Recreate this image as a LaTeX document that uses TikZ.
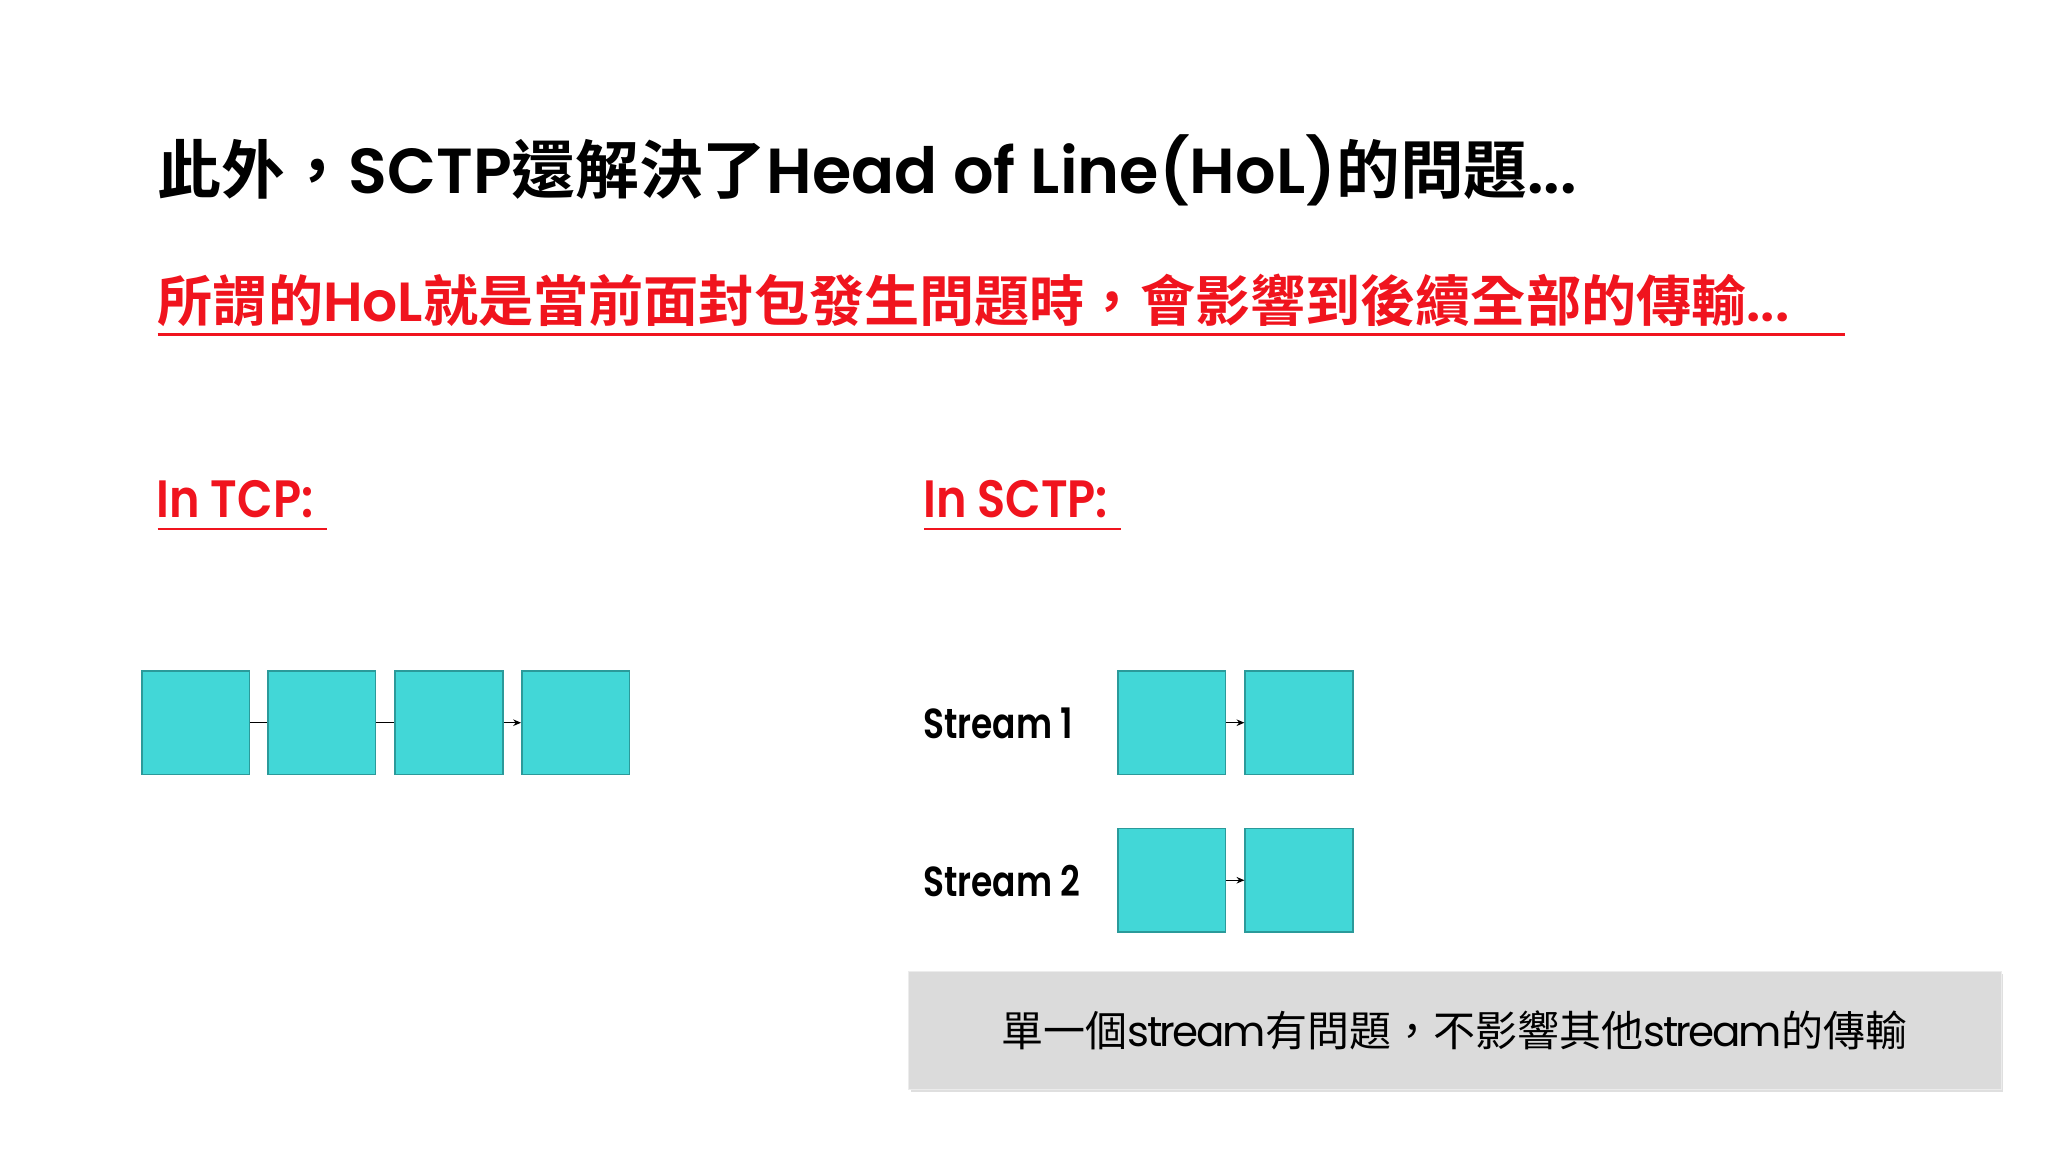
\documentclass[tikz,border=0pt]{standalone}
\usepackage{fontspec}
\setmainfont{Noto Sans CJK TC}
\newfontfamily\boldcjk{Noto Sans CJK TC Bold}
\newfontfamily\pop{Poppins SemiBold}
\newfontfamily\popr{Poppins}
\usetikzlibrary{arrows.meta,shadows}
\definecolor{turq}{HTML}{42D7D7}
\definecolor{turqb}{HTML}{2B9A9A}
\definecolor{sred}{HTML}{F0141E}
\begin{document}
\begin{tikzpicture}[x=1pt,y=-1pt,
  pkt/.style={draw=turqb,fill=turq,line width=1.2pt,minimum width=82pt,minimum height=79pt,inner sep=0pt},
  conn/.style={line width=1pt},
  arr/.style={line width=1pt,-{Stealth[length=6pt,width=5pt]}},
  lbl/.style={anchor=west,inner sep=0pt}]
\useasboundingbox (0,0) rectangle (1560,877.5);
\node[anchor=west,inner sep=0pt,font=\boldcjk\fontsize{48.5}{48.5}\selectfont] (title) at (120,130) {此外，{\pop SCTP}還解決了{\pop Head of Line(HoL)}的問題{\pop...}};
\node[anchor=west,inner sep=0pt,text=sred,font=\boldcjk\fontsize{42}{42}\selectfont] (sub) at (120,229) {所謂的{\pop HoL}就是當前面封包發生問題時，會影響到後續全部的傳輸{\pop...}};
\draw[sred,line width=2pt] (120,255) -- (1405,255);
\node[anchor=west,inner sep=0pt,text=sred,font=\boldcjk\fontsize{40}{40}\selectfont,xscale=0.88] (tcp) at (119,380) {\pop In TCP:};
\draw[sred,line width=2pt] (120,403) -- (249,403);
\node[anchor=west,inner sep=0pt,text=sred,font=\boldcjk\fontsize{40}{40}\selectfont,xscale=0.88] (sctp) at (703,380) {\pop In SCTP:};
\draw[sred,line width=2pt] (704,403) -- (854,403);
\node[pkt] (t1) at (149,550.5) {};
\node[pkt] (t2) at (245,550.5) {};
\node[pkt] (t3) at (342,550.5) {};
\node[pkt] (t4) at (438.5,550.5) {};
\draw[conn] (t1.east) -- (t2.west);
\draw[conn] (t2.east) -- (t3.west);
\draw[arr] (t3.east) -- (t4.west);
\node[lbl,font=\pop\fontsize{32}{32}\selectfont,xscale=0.82] (s1) at (703,551) {Stream 1};
\node[lbl,font=\pop\fontsize{32}{32}\selectfont,xscale=0.82] (s2) at (703,671) {Stream 2};
\node[pkt] (a1) at (892.5,550.5) {};
\node[pkt] (a2) at (989.5,550.5) {};
\node[pkt] (b1) at (892.5,670.5) {};
\node[pkt] (b2) at (989.5,670.5) {};
\draw[arr] (a1.east) -- (a2.west);
\draw[arr] (b1.east) -- (b2.west);
\node[fill=gray!28,draw=gray!15,drop shadow={shadow xshift=2pt,shadow yshift=-2pt,opacity=0.25},minimum width=832pt,minimum height=90pt,inner sep=0pt,font=\fontsize{32}{32}\selectfont] (note) at (1108,785) {單一個{\popr\addfontfeature{LetterSpace=-6}stream}有問題，不影響其他{\popr\addfontfeature{LetterSpace=-6}stream}的傳輸};
\end{tikzpicture}
\end{document}
